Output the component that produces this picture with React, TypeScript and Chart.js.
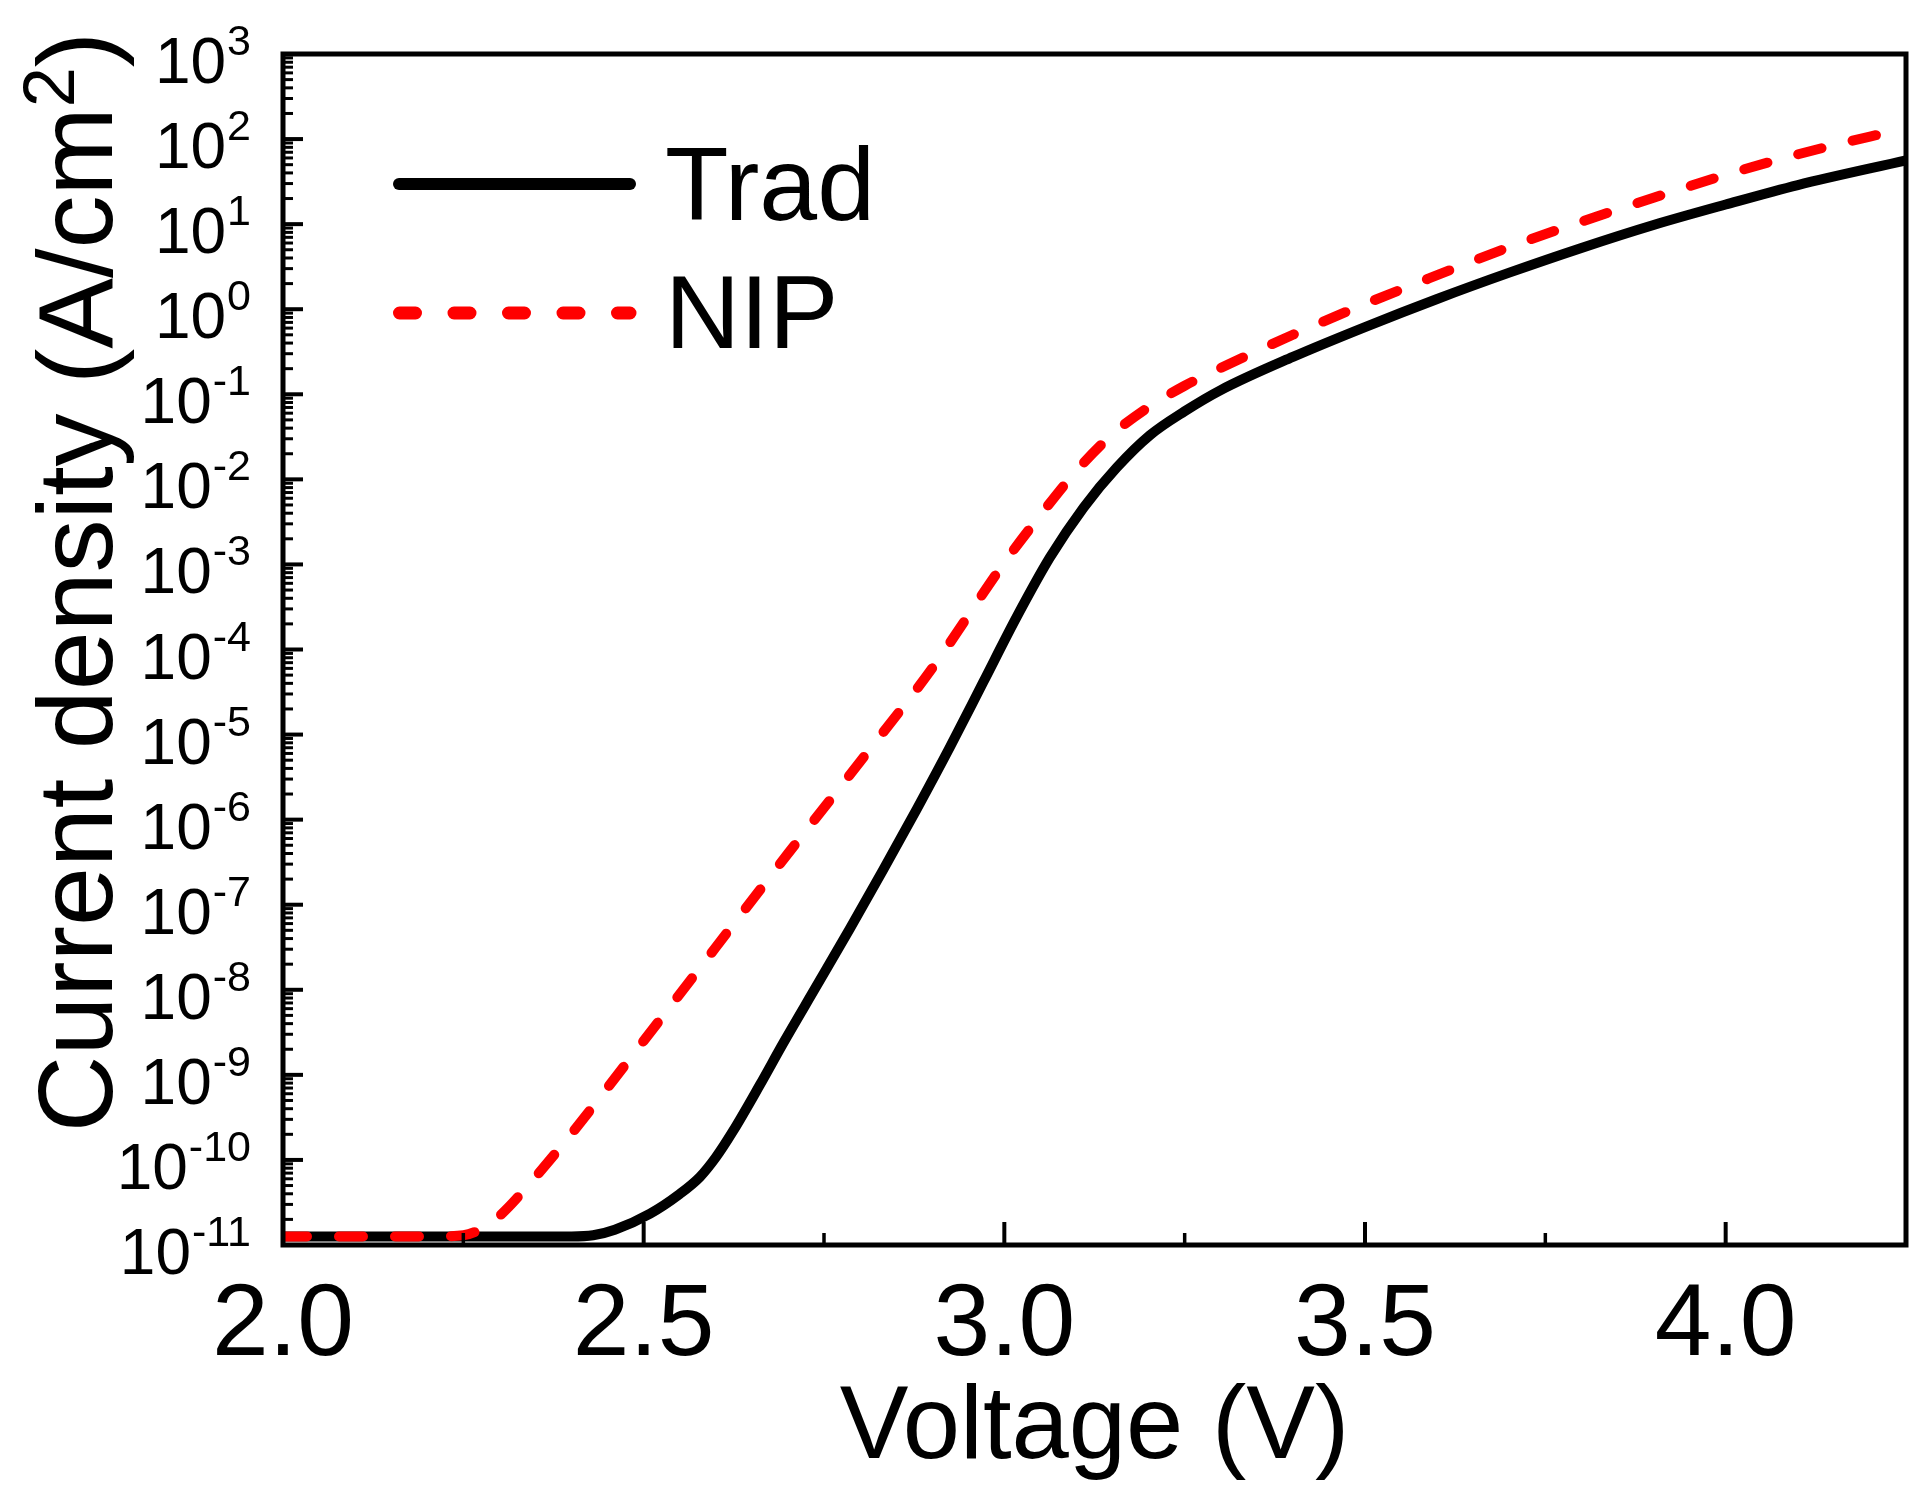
import { useEffect, useRef } from 'react';
import { Chart, registerables } from 'chart.js';

Chart.register(...registerables);

const FONT = '"Liberation Sans", Arial, Helvetica, sans-serif';

// ---- data ----
const voltageTrad = [2.0, 2.2, 2.4, 2.43, 2.46, 2.509, 2.55, 2.578, 2.6, 2.624, 2.661, 2.694, 2.74, 2.786, 2.832, 2.879, 2.925, 2.971, 3.017, 3.063, 3.11, 3.156, 3.202, 3.25, 3.3, 3.4, 3.5, 3.6, 3.7, 3.8, 3.9, 4.0, 4.1, 4.25];
const currentTrad = [1.259e-11, 1.259e-11, 1.259e-11, 1.3e-11, 1.51e-11, 2.34e-11, 3.98e-11, 6.31e-11, 1.07e-10, 2.19e-10, 7.59e-10, 2.4e-9, 1.12e-8, 5.25e-8, 2.57e-7, 1.35e-6, 7.24e-6, 4.17e-5, 2.4e-4, 1.2e-3, 4.68e-3, 1.38e-2, 3.31e-2, 6.31e-2, 0.112, 0.275, 0.617, 1.32, 2.69, 5.25, 9.77, 17.0, 28.8, 56.2];

const voltageNip = [2.0, 2.2, 2.25, 2.275, 2.3, 2.352, 2.4, 2.5, 2.6, 2.7, 2.8, 2.9, 3.0, 3.05, 3.1, 3.15, 3.2, 3.25, 3.3, 3.4, 3.5, 3.6, 3.7, 3.8, 3.9, 4.0, 4.1, 4.2, 4.25];
const currentNip = [1.259e-11, 1.259e-11, 1.3e-11, 1.55e-11, 2.19e-11, 6.61e-11, 2.04e-10, 2.51e-9, 3.16e-8, 3.98e-7, 4.79e-6, 6.03e-5, 1.05e-3, 3.8e-3, 1.26e-2, 3.39e-2, 7.08e-2, 0.126, 0.204, 0.501, 1.15, 2.51, 5.37, 10.7, 20.4, 38.0, 66.1, 107, 132];

const seriesNames = ['Trad', 'NIP'];
const xTickValues = [2.0, 2.5, 3.0, 3.5, 4.0];
const xTickLabels = ['2.0', '2.5', '3.0', '3.5', '4.0'];
const xMinorValues = [2.25, 2.75, 3.25, 3.75];
const yExponents = [-11, -10, -9, -8, -7, -6, -5, -4, -3, -2, -1, 0, 1, 2, 3];
const xTitle = 'Voltage (V)';
const yTitleMain = 'Current density (A/cm';
const yTitleSup = '2';
const yTitleEnd = ')';

const decorPlugin = {
  id: 'decor',
  afterDraw(chart: any) {
    const { ctx, chartArea: a, scales } = chart;
    const x = scales.x;
    const y = scales.y;
    ctx.save();
    ctx.strokeStyle = '#000';
    ctx.fillStyle = '#000';
    ctx.lineCap = 'butt';

    const seg = (x1: number, y1: number, x2: number, y2: number) => {
      ctx.beginPath();
      ctx.moveTo(x1, y1);
      ctx.lineTo(x2, y2);
      ctx.stroke();
    };

    // inward ticks on bottom axis
    ctx.lineWidth = 4;
    xTickValues.forEach((v) => {
      const px = x.getPixelForValue(v);
      seg(px, a.bottom, px, a.bottom - 23);
    });
    ctx.lineWidth = 3.5;
    xMinorValues.forEach((v) => {
      const px = x.getPixelForValue(v);
      seg(px, a.bottom, px, a.bottom - 12);
    });

    // inward ticks on left axis
    yExponents.forEach((k) => {
      ctx.lineWidth = 4;
      const py = y.getPixelForValue(Math.pow(10, k));
      seg(a.left, py, a.left + 20, py);
      if (k < 3) {
        ctx.lineWidth = 3;
        for (let m = 2; m <= 9; m++) {
          const pm = y.getPixelForValue(m * Math.pow(10, k));
          seg(a.left, pm, a.left + 10, pm);
        }
      }
    });

    // frame
    ctx.lineWidth = 5;
    ctx.strokeRect(a.left, a.top, a.right - a.left, a.bottom - a.top);

    // y tick labels 10^k
    ctx.textBaseline = 'alphabetic';
    ctx.textAlign = 'right';
    const labelRight = 251;
    yExponents.forEach((k) => {
      const py = y.getPixelForValue(Math.pow(10, k));
      ctx.font = `43px ${FONT}`;
      const exp = String(k);
      const w = ctx.measureText(exp).width;
      ctx.fillText(exp, labelRight, py + 1);
      ctx.font = `64px ${FONT}`;
      ctx.fillText('10', labelRight - w - 1, py + 29);
    });

    // x tick labels
    ctx.textAlign = 'center';
    ctx.font = `102px ${FONT}`;
    xTickValues.forEach((v, i) => {
      ctx.fillText(xTickLabels[i], x.getPixelForValue(v), 1355);
    });

    // x title
    ctx.font = `103px ${FONT}`;
    ctx.fillText(xTitle, (a.left + a.right) / 2, 1458);

    // y title (rotated)
    ctx.save();
    ctx.translate(112, 582);
    ctx.rotate(-Math.PI / 2);
    ctx.textAlign = 'left';
    ctx.font = `106px ${FONT}`;
    const w1 = ctx.measureText(yTitleMain).width;
    const w3 = ctx.measureText(yTitleEnd).width;
    ctx.font = `72px ${FONT}`;
    const w2 = ctx.measureText(yTitleSup).width;
    const total = w1 + w2 + w3;
    let cx = -total / 2;
    ctx.font = `106px ${FONT}`;
    ctx.fillText(yTitleMain, cx, 0);
    cx += w1;
    ctx.font = `72px ${FONT}`;
    ctx.fillText(yTitleSup, cx, -38);
    cx += w2;
    ctx.font = `106px ${FONT}`;
    ctx.fillText(yTitleEnd, cx, 0);
    ctx.restore();

    // legend
    ctx.lineCap = 'round';
    ctx.lineWidth = 12;
    ctx.strokeStyle = '#000';
    seg(399, 184, 630, 184);
    ctx.strokeStyle = '#ff0000';
    ctx.lineWidth = 13;
    ctx.setLineDash([16, 38.5]);
    seg(399.5, 313, 630, 313);
    ctx.setLineDash([]);
    ctx.textAlign = 'left';
    ctx.font = `104px ${FONT}`;
    ctx.fillStyle = '#000';
    ctx.fillText(seriesNames[0], 665, 220);
    ctx.fillText(seriesNames[1], 665, 348);

    ctx.restore();
  },
};

export default function App() {
  const ref = useRef<HTMLCanvasElement | null>(null);

  useEffect(() => {
    if (!ref.current) return;
    const chart = new Chart(ref.current, {
      type: 'line',
      data: {
        datasets: [
          {
            label: seriesNames[0],
            data: voltageTrad.map((v, i) => ({ x: v, y: currentTrad[i] })),
            borderColor: '#000000',
            borderWidth: 10,
            pointRadius: 0,
            fill: false,
            cubicInterpolationMode: 'monotone',
            order: 1,
          },
          {
            label: seriesNames[1],
            data: voltageNip.map((v, i) => ({ x: v, y: currentNip[i] })),
            borderColor: '#ff0000',
            borderWidth: 10,
            borderDash: [24, 32],
            borderCapStyle: 'round',
            pointRadius: 0,
            fill: false,
            cubicInterpolationMode: 'monotone',
            order: 0,
          },
        ],
      },
      options: {
        animation: false,
        responsive: false,
        devicePixelRatio: 1,
        layout: { padding: { left: 283, right: 24, top: 54, bottom: 248 } },
        plugins: { legend: { display: false }, tooltip: { enabled: false } },
        scales: {
          x: {
            type: 'linear',
            min: 2,
            max: 4.25,
            ticks: { display: false },
            grid: { display: false },
            border: { display: false },
            afterFit: (s: any) => { s.height = 0; },
          },
          y: {
            type: 'logarithmic',
            min: 1e-11,
            max: 1e3,
            ticks: { display: false },
            grid: { display: false },
            border: { display: false },
            afterFit: (s: any) => { s.width = 0; },
          },
        },
      } as any,
      plugins: [decorPlugin],
    });
    return () => chart.destroy();
  }, []);

  return (
    <div style={{ position: 'fixed', left: 0, top: 0, width: 1930, height: 1493, background: '#fff' }}>
      <canvas ref={ref} width={1930} height={1493} style={{ width: 1930, height: 1493, display: 'block' }} />
    </div>
  );
}
